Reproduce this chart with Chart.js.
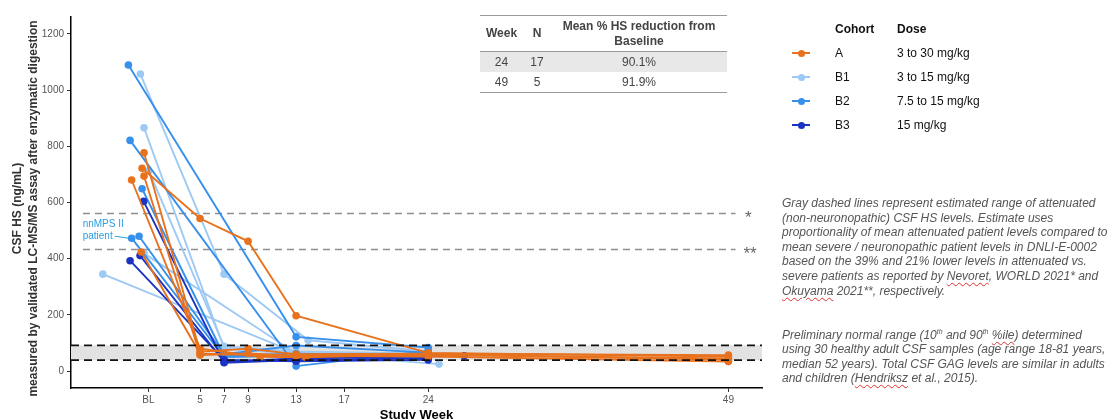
<!DOCTYPE html>
<html><head><meta charset="utf-8">
<script src="https://cdn.jsdelivr.net/npm/chart.js@4.4.1/dist/chart.umd.min.js"></script>
<style>
html,body{margin:0;padding:0;background:#fff;}
body{width:1112px;height:419px;overflow:hidden;position:relative;font-family:"Liberation Sans",Arial,sans-serif;}
#c{position:absolute;left:0;top:0;}
#tbl{position:absolute;left:480px;top:15px;width:247px;border-collapse:collapse;font-size:12px;color:#444;}
#tbl th{height:35px;padding:0;line-height:15px;font-weight:bold;text-align:center;vertical-align:middle;border-top:1.5px solid #9a9a9a;border-bottom:1.5px solid #9a9a9a;color:#444;}
#tbl td{height:20px;padding:0;line-height:20px;text-align:center;}
#tbl tr.last td{border-bottom:1.5px solid #9a9a9a;}
#tbl tr.shade td{background:#e8e8e8;}
.lg{position:absolute;font-size:12px;color:#111;white-space:nowrap;line-height:14px;}
.lgh{font-weight:bold;}
.sym{position:absolute;width:18px;height:2px;}
.sym i{position:absolute;left:5.5px;top:-2.5px;width:7px;height:7px;border-radius:50%;}
.note{position:absolute;left:782px;font-size:12px;font-style:italic;color:#555;line-height:14.6px;white-space:nowrap;}
.sp{text-decoration:underline wavy #e03030;text-decoration-thickness:1px;text-underline-offset:2px;}
sup{font-size:7px;line-height:0;vertical-align:5px;}
</style>
</head><body>
<canvas id="c" width="1112" height="419"></canvas>
<table id="tbl"><thead><tr><th style="width:43px">Week</th><th style="width:28px">N</th><th id="th3"></th></tr></thead><tbody id="tb"></tbody></table>
<div id="legend"></div>
<div class="note" style="top:196px">
<div>Gray dashed lines represent estimated range of attenuated</div>
<div>(non-neuronopathic) CSF HS levels. Estimate uses</div>
<div>proportionality of mean attenuated patient levels compared to</div>
<div>mean severe / neuronopathic patient levels in DNLI-E-0002</div>
<div>based on the 39% and 21% lower levels in attenuated vs.</div>
<div>severe patients as reported by <span class="sp">Nevoret</span>, WORLD 2021* and</div>
<div><span class="sp">Okuyama</span> 2021**, respectively.</div>
</div>
<div class="note" style="top:327.5px">
<div>Preliminary normal range (10<sup>th</sup> and 90<sup>th</sup> <span class="sp">%ile</span>) determined</div>
<div>using 30 healthy adult CSF samples (age range 18-81 years,</div>
<div>median 52 years). Total CSF GAG levels are similar in adults</div>
<div>and children (<span class="sp">Hendriksz</span> et al., 2015).</div>
</div>
<script>
// ---------- data ----------
const cohorts = ['A', 'B1', 'B2', 'B3'];
const doses = ['3 to 30 mg/kg', '3 to 15 mg/kg', '7.5 to 15 mg/kg', '15 mg/kg'];
const cohortColors = ['#E8711D', '#9DC9F4', '#3790EC', '#1B33C2'];

// one inner array per patient: study week (BL points slightly jittered) and CSF HS (ng/mL)
const weeks_A = [[0.33, 5, 9, 13, 24, 49], [0.17, 5, 9, 13, 24, 49], [0.33, 5, 9, 13, 24, 49], [-0.7, 5, 10, 13.8, 24, 49], [0.1, 5, 13, 24, 49]];
const hs_A    = [[777, 69, 80, 60, 62, 57], [722, 543, 462, 197, 65, 52], [694, 57, 63, 55, 58, 45], [680, 80, 51, 49, 60, 40], [424, 62, 55, 52, 34]];
const weeks_B1 = [[0.03, 7, 14, 24], [0.33, 7, 13, 24], [0.72, 7, 13, 24], [0.33, 13, 24], [-3.1, 13, 24.9]];
const hs_B1    = [[1057, 345, 110, 70], [866, 80, 62, 58], [713, 88, 70, 62], [419, 63, 50], [345, 65, 25]];
const weeks_B2 = [[-0.97, 13, 24], [-0.83, 13, 24], [0.17, 7, 13, 24], [-0.08, 7, 13, 24], [-0.7, 7, 13, 24]];
const hs_B2    = [[1089, 122, 84], [821, 18, 72], [649, 55, 62, 57], [480, 60, 91, 66], [473, 50, 55, 51]];
const weeks_B3 = [[0.3, 7, 13, 24], [0, 7, 13, 27], [-0.83, 7, 13, 24]];
const hs_B3    = [[604, 30, 39, 46], [411, 33, 45, 55], [393, 40, 35, 40]];

const xTickValues = [0.7, 5, 7, 9, 13, 17, 24, 49];
const xTickLabels = ['BL', '5', '7', '9', '13', '17', '24', '49'];
const yTickValues = [0, 200, 400, 600, 800, 1000, 1200];
const yTitleLines = ['CSF HS (ng/mL)', 'measured by validated LC-MS/MS assay after enzymatic digestion'];

const attenuatedRange = [433, 561];   // gray dashed lines
const normalRange = [39, 92];          // black dashed band
const nnmpsCohort = 'B2', nnmpsPatient = 4;

const tableWeek = [24, 49];
const tableN = [17, 5];
const tableReduction = ['90.1%', '91.9%'];
const tableHeader = ['Mean % HS reduction from', 'Baseline'];

// ---------- table & legend ----------
document.getElementById('th3').innerHTML = tableHeader.join('<br>');
const tb = document.getElementById('tb');
tableWeek.forEach((w, i) => {
  const tr = document.createElement('tr');
  if (i === 0) tr.className = 'shade';
  if (i === tableWeek.length - 1) tr.className += ' last';
  tr.innerHTML = '<td>' + w + '</td><td>' + tableN[i] + '</td><td>' + tableReduction[i] + '</td>';
  tb.appendChild(tr);
});
const lg = document.getElementById('legend');
let html = '<div class="lg lgh" style="left:835px;top:22px">Cohort</div><div class="lg lgh" style="left:897px;top:22px">Dose</div>';
cohorts.forEach((c, i) => {
  const cy = 53 + i * 24;
  html += '<div class="sym" style="left:792px;top:' + (cy - 1) + 'px;background:' + cohortColors[i] + '"><i style="background:' + cohortColors[i] + '"></i></div>';
  html += '<div class="lg" style="left:835px;top:' + (cy - 7) + 'px">' + c + '</div>';
  html += '<div class="lg" style="left:897px;top:' + (cy - 7) + 'px">' + doses[i] + '</div>';
});
lg.innerHTML = html;

// ---------- datasets ----------
const groups = { A: [weeks_A, hs_A], B1: [weeks_B1, hs_B1], B2: [weeks_B2, hs_B2], B3: [weeks_B3, hs_B3] };
const drawOrder = ['A', 'B3', 'B2', 'B1'];
const datasets = [];
let nnmpsIndex = -1;
drawOrder.forEach(c => {
  const col = cohortColors[cohorts.indexOf(c)];
  const [ws, hs] = groups[c];
  ws.forEach((w, p) => {
    if (c === nnmpsCohort && p === nnmpsPatient) nnmpsIndex = datasets.length;
    datasets.push({
      label: c + '-' + (p + 1),
      data: w.map((wk, k) => ({ x: wk, y: hs[p][k] })),
      borderColor: col, backgroundColor: col,
      borderWidth: 1.9, pointRadius: 3.8, pointBorderWidth: 0, tension: 0
    });
  });
});

const FONT = '"Liberation Sans", Arial, sans-serif';
Chart.defaults.font.family = FONT;

const annot = {
  id: 'annot',
  beforeDatasetsDraw(chart) {
    const { ctx, chartArea: a, scales: { x, y } } = chart;
    ctx.save();
    const yt = y.getPixelForValue(normalRange[1]), yb = y.getPixelForValue(normalRange[0]);
    ctx.fillStyle = '#e2e2e2';
    ctx.fillRect(a.left, yt, a.right - a.left, yb - yt);
    ctx.strokeStyle = '#8e8e8e'; ctx.lineWidth = 1.3; ctx.setLineDash([7, 5]);
    attenuatedRange.forEach(v => {
      const py = Math.round(y.getPixelForValue(v)) + 0.5;
      ctx.beginPath(); ctx.moveTo(x.getPixelForValue(-4.75), py); ctx.lineTo(x.getPixelForValue(49.6), py); ctx.stroke();
    });
    ctx.restore();
  },
  afterDatasetsDraw(chart) {
    const { ctx, chartArea: a, scales: { x, y } } = chart;
    ctx.save();
    ctx.strokeStyle = '#111'; ctx.lineWidth = 1.8; ctx.setLineDash([8, 5]);
    normalRange.forEach(v => {
      const py = y.getPixelForValue(v);
      ctx.beginPath(); ctx.moveTo(a.left, py); ctx.lineTo(a.right, py); ctx.stroke();
    });
    ctx.setLineDash([]);
    ctx.fillStyle = '#666'; ctx.font = '17px ' + FONT; ctx.textAlign = 'center'; ctx.textBaseline = 'middle';
    ctx.fillText('*', x.getPixelForValue(50.65), y.getPixelForValue(attenuatedRange[1]) + 5);
    ctx.fillText('**', x.getPixelForValue(50.8), y.getPixelForValue(attenuatedRange[0]) + 5);
    // nnMPS II annotation
    const pt = chart.getDatasetMeta(nnmpsIndex).data[0];
    const c = '#2A9FE2';
    ctx.fillStyle = c; ctx.font = '10px ' + FONT; ctx.textAlign = 'left';
    ctx.fillText('nnMPS II', pt.x - 49, pt.y - 14);
    ctx.fillText('patient', pt.x - 49, pt.y - 2);
    ctx.strokeStyle = c; ctx.lineWidth = 1;
    ctx.beginPath(); ctx.moveTo(pt.x - 17, pt.y - 2); ctx.lineTo(pt.x - 3, pt.y); ctx.stroke();
    // y-axis title (two lines, rotated)
    ctx.fillStyle = '#333'; ctx.font = 'bold 12px ' + FONT; ctx.textAlign = 'center';
    const cy = (a.top + a.bottom) / 2 + 6;
    [18, 33.5].forEach((tx, i) => {
      ctx.save(); ctx.translate(tx, cy); ctx.rotate(-Math.PI / 2); ctx.fillText(yTitleLines[i], 0, 0); ctx.restore();
    });
    ctx.restore();
  }
};

new Chart(document.getElementById('c'), {
  type: 'line',
  data: { datasets },
  options: {
    responsive: false, animation: false,
    layout: { padding: { left: 0, top: 17, right: 350, bottom: 0 } },
    plugins: { legend: { display: false }, tooltip: { enabled: false } },
    scales: {
      x: {
        type: 'linear', min: -5.75, max: 51.8,
        afterBuildTicks: s => { s.ticks = xTickValues.map(v => ({ value: v })); },
        afterFit: s => { s.height = 31; },
        ticks: { autoSkip: false, maxRotation: 0, minRotation: 0, callback: (v, i) => xTickLabels[i], color: '#555', font: { size: 10 }, padding: 2 },
        grid: { display: true, drawOnChartArea: false, drawTicks: true, tickLength: 4, color: '#333' },
        border: { display: true, color: '#000', width: 1.5 },
        title: { display: true, text: 'Study Week', color: '#000', font: { size: 13, weight: 'bold' }, padding: { top: 0, bottom: -4 } }
      },
      y: {
        type: 'linear', min: -60, max: 1260,
        afterBuildTicks: s => { s.ticks = yTickValues.map(v => ({ value: v })); },
        afterFit: s => { s.width = 71; },
        ticks: { color: '#555', font: { size: 10 }, padding: 3, callback: v => String(v) },
        grid: { display: true, drawOnChartArea: false, drawTicks: true, tickLength: 4, color: '#333' },
        border: { display: true, color: '#000', width: 1.5 },
        title: { display: false }
      }
    }
  },
  plugins: [annot]
});
</script>
</body></html>
